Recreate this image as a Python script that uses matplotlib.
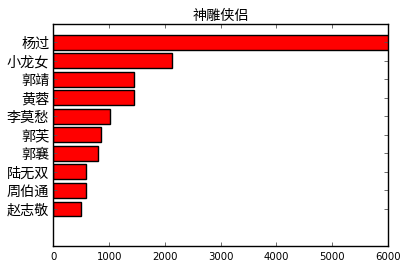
import matplotlib
matplotlib.use("Agg")
import matplotlib.pyplot as plt

plt.rcParams['font.family'] = ['Noto Sans CJK SC', 'DejaVu Sans']

# Character names (top to bottom) and their counts
NAMES = ["杨过", "小龙女", "郭靖", "黄蓉", "李莫愁", "郭芙", "郭襄", "陆无双", "周伯通", "赵志敬"]
COUNTS = [6200, 2130, 1440, 1440, 1020, 860, 790, 577, 577, 487]
TITLE = "神雕侠侣"
X_TICKS = [0, 1000, 2000, 3000, 4000, 5000, 6000]


def main() -> None:
    fig = plt.figure(figsize=(4.07, 2.67), dpi=100)
    ax = fig.add_axes([0.1314, 0.0787, 0.8219, 0.8325])

    positions = list(range(len(NAMES) - 1, -1, -1))
    ax.barh(positions, COUNTS, height=0.8, color="red", edgecolor="black", linewidth=1.0)

    ax.set_xlim(0, 6000)
    ax.set_ylim(-2, len(NAMES))
    ax.set_yticks(positions)
    ax.set_yticklabels(NAMES, fontsize=10.2)
    ax.set_xticks(X_TICKS)
    ax.set_xticklabels([str(v) for v in X_TICKS], fontsize=7.3, family="DejaVu Sans")
    ax.set_title(TITLE, fontsize=10.2, pad=3)

    ax.tick_params(direction="in", top=True, right=True, length=3, width=0.6, color="#555555")
    ax.tick_params(axis="x", pad=4)
    ax.tick_params(axis="y", pad=3)
    for spine in ax.spines.values():
        spine.set_linewidth(1.0)

    fig.savefig("out.png", dpi=100)


if __name__ == "__main__":
    main()
